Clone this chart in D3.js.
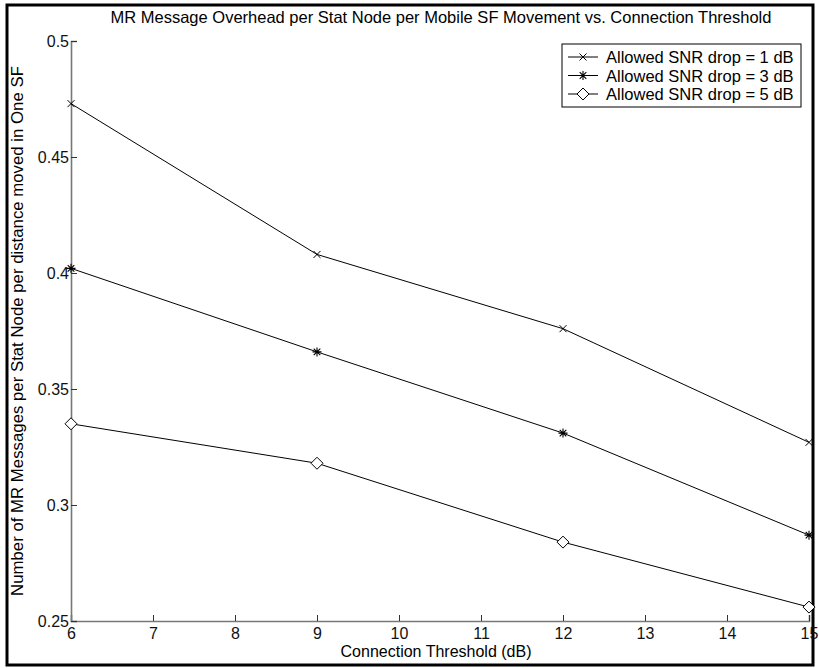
<!DOCTYPE html>
<html>
<head>
<meta charset="utf-8">
<script src="https://cdn.jsdelivr.net/npm/d3@7"></script>
<style>
  body { margin: 0; background: #fff; }
  svg { display: block; font-family: "Liberation Sans", Arial, sans-serif; }
</style>
</head>
<body>
<svg id="chart" width="819" height="668"></svg>
<script>
// data
const thresholds = [6, 9, 12, 15];
const drop1 = [0.473, 0.408, 0.376, 0.327];
const drop3 = [0.402, 0.366, 0.331, 0.287];
const drop5 = [0.335, 0.318, 0.284, 0.256];
const seriesNames = ["Allowed SNR drop = 1 dB", "Allowed SNR drop = 3 dB", "Allowed SNR drop = 5 dB"];
const xTicks = [6, 7, 8, 9, 10, 11, 12, 13, 14, 15];
const yTicks = [0.25, 0.3, 0.35, 0.4, 0.45, 0.5];

const svg = d3.select("#chart");
const width = 819, height = 668;
const margin = { top: 41, right: 10, bottom: 47, left: 71 };

const x = d3.scaleLinear().domain([6, 15]).range([margin.left, width - margin.right]);
const y = d3.scaleLinear().domain([0.25, 0.5]).range([height - margin.bottom, margin.top]);

// outer frame
svg.append("rect")
  .attr("x", 7).attr("y", 5)
  .attr("width", 806).attr("height", 660)
  .attr("fill", "none")
  .attr("stroke", "#000")
  .attr("stroke-width", 3);

// axes (matlab style: ticks point inward)
const xAxis = svg.append("g")
  .attr("transform", `translate(0,${y(0.25)})`)
  .call(d3.axisBottom(x).tickValues(xTicks).tickSize(-6).tickPadding(7).tickFormat(d3.format("d")));
const yAxis = svg.append("g")
  .attr("transform", `translate(${x(6)},0)`)
  .call(d3.axisLeft(y).tickValues(yTicks).tickSize(-6).tickPadding(4).tickFormat(d => String(d)));

[xAxis, yAxis].forEach(ax => {
  ax.select(".domain").attr("stroke", "#777").attr("stroke-width", 1.6);
  ax.selectAll(".tick line").attr("stroke", "#333");
  ax.selectAll(".tick text").attr("font-size", 16).attr("fill", "#111");
});
yAxis.selectAll(".tick text").attr("dx", 2);

// lines
const line = d3.line().x((d, i) => x(thresholds[i])).y(d => y(d));
const allSeries = [drop1, drop3, drop5];
svg.append("g").selectAll("path")
  .data(allSeries)
  .join("path")
  .attr("d", line)
  .attr("fill", "none")
  .attr("stroke", "#000")
  .attr("stroke-width", 1);

// markers
function drawMarker(g, kind, cx, cy) {
  if (kind === 0) {
    const s = 3.5;
    g.append("path")
      .attr("d", `M${cx - s},${cy - s}L${cx + s},${cy + s}M${cx - s},${cy + s}L${cx + s},${cy - s}`)
      .attr("stroke", "#000").attr("stroke-width", 1);
  } else if (kind === 1) {
    const s = 4.5, t = 3.3;
    g.append("path")
      .attr("d", `M${cx},${cy - s}L${cx},${cy + s}M${cx - s},${cy}L${cx + s},${cy}` +
        `M${cx - t},${cy - t}L${cx + t},${cy + t}M${cx - t},${cy + t}L${cx + t},${cy - t}`)
      .attr("stroke", "#000").attr("stroke-width", 1.1);
  } else {
    const s = 6;
    g.append("path")
      .attr("d", `M${cx},${cy - s}L${cx + s},${cy}L${cx},${cy + s}L${cx - s},${cy}Z`)
      .attr("fill", "#fff").attr("stroke", "#000").attr("stroke-width", 1);
  }
}
const markers = svg.append("g");
allSeries.forEach((vals, k) => {
  vals.forEach((v, i) => drawMarker(markers, k, x(thresholds[i]), y(v)));
});

// title and labels
svg.append("text")
  .attr("x", 441).attr("y", 23)
  .attr("text-anchor", "middle")
  .attr("font-size", 16.5)
  .text("MR Message Overhead per Stat Node per Mobile SF Movement vs. Connection Threshold");

svg.append("text")
  .attr("x", 436).attr("y", 657)
  .attr("text-anchor", "middle")
  .attr("font-size", 16)
  .text("Connection Threshold (dB)");

svg.append("text")
  .attr("transform", `translate(23,${(y(0.25) + y(0.5)) / 2}) rotate(-90)`)
  .attr("text-anchor", "middle")
  .attr("font-size", 16.8)
  .text("Number of MR Messages per Stat Node per distance moved in One SF");

// legend
const legend = svg.append("g");
legend.append("rect")
  .attr("x", 562).attr("y", 44)
  .attr("width", 239).attr("height", 63)
  .attr("fill", "#fff").attr("stroke", "#000").attr("stroke-width", 1);
seriesNames.forEach((name, k) => {
  const ly = 57 + k * 18.5;
  legend.append("line")
    .attr("x1", 568).attr("x2", 598).attr("y1", ly).attr("y2", ly)
    .attr("stroke", "#000");
  drawMarker(legend, k, 583, ly);
  legend.append("text")
    .attr("x", 606).attr("y", ly + 6)
    .attr("font-size", 16.5)
    .text(name);
});
</script>
</body>
</html>
